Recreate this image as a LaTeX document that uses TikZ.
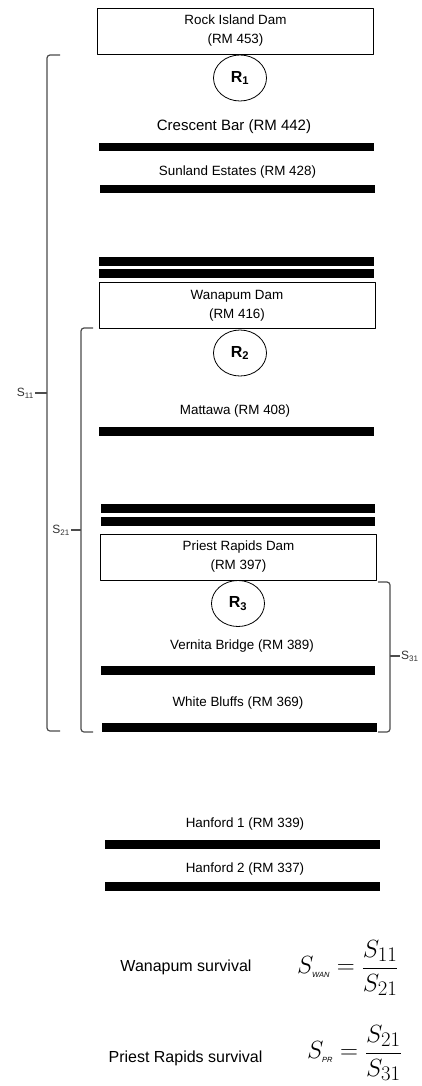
\documentclass[tikz,border=0pt]{standalone}
\usepackage{fontspec}
\setmainfont{Liberation Sans}
\usetikzlibrary{shapes.geometric}

\newcommand{\printBar}[3]{\fill [black] (#1,#3) rectangle (#2,#3+8.5);}
\newcommand{\subtag}[1]{\hbox{\fontsize{7.5}{7.5}\selectfont\itshape #1}}

\tikzset{
  dambox/.style={draw=black, line width=0.9pt, minimum width=276pt, minimum height=46pt,
    align=center, inner sep=0pt, font=\fontsize{13.4}{19}\selectfont},
  reach/.style={draw=black, ellipse, line width=0.8pt, minimum width=53pt, minimum height=46pt,
    inner sep=0pt, font=\fontsize{16}{18}\selectfont\bfseries},
  sitelabel/.style={inner sep=0pt, font=\fontsize{13.4}{16}\selectfont},
  bracket/.style={draw=black!70, line width=1.2pt, rounded corners=3pt},
  brlabel/.style={inner sep=1pt, text=black!80, font=\fontsize{12}{14}\selectfont},
  survlabel/.style={inner sep=0pt, font=\fontsize{16}{18}\selectfont},
  survfrac/.style={inner sep=0pt, anchor=west, font=\fontsize{24.88}{28}\selectfont}
}

\begin{document}
\begin{tikzpicture}[x=1pt,y=-1pt,line join=round]
  \useasboundingbox (0,0) rectangle (422,1086);

  % dams
  \node [dambox] (rockisland) at (235.5,31) {Rock Island Dam\\(RM 453)};
  \node [dambox] (wanapum) at (237,305.5) {Wanapum Dam\\(RM 416)};
  \node [dambox] (priestrapids) at (238.5,557) {Priest Rapids Dam\\(RM 397)};

  % reaches
  \node [reach] (reachA) at (240,78) {R\textsubscript{1}};
  \node [reach] (reachB) at (240,353) {R\textsubscript{2}};
  \node [reach] (reachC) at (238,603.5) {R\textsubscript{3}};

  % sites
  \node [sitelabel, font=\fontsize{15}{17}\selectfont] (crescent) at (234,127) {Crescent Bar (RM 442)};
  \node [sitelabel] (sunland) at (237.5,172) {Sunland Estates (RM 428)};
  \node [sitelabel] (mattawa) at (235,411) {Mattawa (RM 408)};
  \node [sitelabel] (vernita) at (242,646) {Vernita Bridge (RM 389)};
  \node [sitelabel] (whitebluffs) at (238,703) {White Bluffs (RM 369)};
  \node [sitelabel] (hanfordA) at (245,824) {Hanford 1 (RM 339)};
  \node [sitelabel] (hanfordB) at (245,869) {Hanford 2 (RM 337)};

  % arrays
  \foreach \xa/\xb/\y in {99/374/143, 100/375/185, 99/374/257, 99/374/269, 99/374/427,
      101/375/504, 101/375/517, 101/375/666, 102/377/723, 105/380/840, 105/380/882} {
      \printBar{\xa}{\xb}{\y}
    }

  % survival brackets
  \draw [bracket] (60,55) -- (47,55) -- (47,731) -- (60,731);
  \node [brlabel, anchor=east] (sA) at (35,393) {S\textsubscript{11}};
  \coordinate (sAtip) at (47,393);
  \draw [bracket] (sA.east) -- (sAtip);

  \draw [bracket] (93,328) -- (81,328) -- (81,732) -- (93,732);
  \node [brlabel, anchor=east] (sB) at (71,530) {S\textsubscript{21}};
  \coordinate (sBtip) at (81,530);
  \draw [bracket] (sB.east) -- (sBtip);

  \draw [bracket] (378,582) -- (390,582) -- (390,732) -- (378,732);
  \node [brlabel, anchor=west] (sC) at (400,656) {S\textsubscript{31}};
  \coordinate (sCtip) at (390,656);
  \draw [bracket] (sCtip) -- (sC.west);

  % estimates
  \node [survlabel] (wansurv) at (186,967) {Wanapum survival};
  \node [survfrac] (wanfrac) at (297,968) {$\displaystyle S_{\subtag{WAN}}=\frac{S_{11}}{S_{21}}$};
  \node [survlabel] (prsurv) at (185.5,1058) {Priest Rapids survival};
  \node [survfrac] (prfrac) at (307,1053) {$\displaystyle S_{\subtag{PR}}=\frac{S_{21}}{S_{31}}$};
\end{tikzpicture}
\end{document}
